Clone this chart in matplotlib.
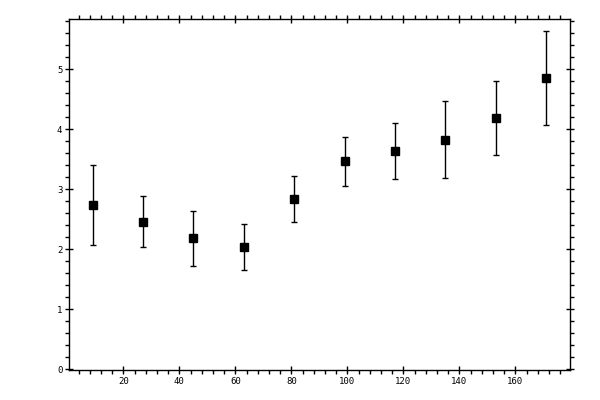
import numpy as np
import matplotlib
matplotlib.use("Agg")
import matplotlib.pyplot as plt
from matplotlib.ticker import MultipleLocator

x_vals = [9, 27, 45, 63, 81, 99, 117, 135, 153, 171]
y_vals = [2.74, 2.45, 2.18, 2.03, 2.83, 3.47, 3.63, 3.82, 4.18, 4.85]
y_upper = [3.40, 2.88, 2.63, 2.42, 3.22, 3.87, 4.10, 4.47, 4.80, 5.63]
y_lower = [2.07, 2.03, 1.72, 1.65, 2.45, 3.05, 3.17, 3.18, 3.57, 4.07]

x_ticks = [20, 40, 60, 80, 100, 120, 140, 160]
y_ticks = [0, 1, 2, 3, 4, 5]

y = np.array(y_vals)
err = [y - np.array(y_lower), np.array(y_upper) - y]

fig = plt.figure(figsize=(6, 4), dpi=100)
ax = fig.add_axes([0.1155, 0.075, 0.8345, 0.8768])

ax.errorbar(x_vals, y_vals, yerr=err, fmt="s", color="black",
            markersize=5.2, elinewidth=1.0, capsize=2.0, capthick=1.0)

ax.set_xlim(0.7, 179.5)
ax.set_ylim(-0.01, 5.83)
ax.set_xticks(x_ticks)
ax.set_yticks(y_ticks)
ax.xaxis.set_minor_locator(MultipleLocator(4))
ax.yaxis.set_minor_locator(MultipleLocator(0.2))

for s in ax.spines.values():
    s.set_linewidth(1.0)

ax.tick_params(which="major", direction="inout", length=6, width=1.0,
               top=True, right=True, labelsize=6.5, pad=2)
ax.tick_params(which="minor", direction="out", length=3, width=1.0,
               top=True, right=True)
for lab in ax.get_xticklabels() + ax.get_yticklabels():
    lab.set_family("DejaVu Sans Mono")

fig.savefig("out.png", dpi=100)
